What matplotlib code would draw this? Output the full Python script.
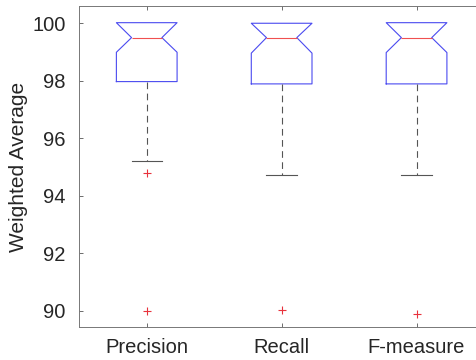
import matplotlib
matplotlib.use("Agg")
import matplotlib.pyplot as plt

labels = ["Precision", "Recall", "F-measure"]
q1 = [97.97, 97.89, 97.89]
med = [99.50, 99.50, 99.50]
q3 = [100.02, 100.0, 100.02]
notch_lo = [98.99, 98.96, 98.98]
whis_lo = [95.21, 94.72, 94.72]
whis_hi = [100.02, 100.0, 100.02]
outliers = [[94.80, 90.0], [90.01], [89.90]]

stats = []
for i, lab in enumerate(labels):
    stats.append(dict(label=lab, med=med[i], q1=q1[i], q3=q3[i],
                      cilo=notch_lo[i], cihi=q3[i],
                      whislo=whis_lo[i], whishi=whis_hi[i], fliers=[]))

plt.rcParams["font.family"] = ["Liberation Sans", "DejaVu Sans"]
fig = plt.figure(figsize=(4.77, 3.6), dpi=100)
ax = fig.add_axes([0.1662, 0.0908, 0.8485, 0.8925])

bp = ax.bxp(stats, positions=[1, 2, 3], widths=0.45, shownotches=True,
            showfliers=False,
            boxprops=dict(color="#4a4af0", lw=0.8),
            medianprops=dict(color="#f05050", lw=0.8),
            whiskerprops=dict(color="#555555", lw=0.8, ls=(0, (6, 4))),
            capprops=dict(color="#555555", lw=0.8))
# upper caps sit on the box top; hide them
for c in bp["caps"][1::2]:
    c.set_visible(False)

# outliers as red plus signs
for i, vals in enumerate(outliers):
    ax.scatter([i + 1] * len(vals), vals, marker="+", s=36,
               color="#e8323c", linewidths=0.8, zorder=3)

ax.set_xlim(0.5, 3.5)
ax.set_ylim(89.42, 100.6)
ax.set_yticks([90, 92, 94, 96, 98, 100])
ax.set_xticks([1, 2, 3])
ax.set_xticklabels(labels)
ax.tick_params(direction="in", length=3, width=0.6, color="#555555",
               labelsize=14.5, labelcolor="#262626", top=True, right=True)
ax.tick_params(axis="y", pad=10)
ax.tick_params(axis="x", pad=8)
for s in ax.spines.values():
    s.set_color("#777777")
    s.set_linewidth(0.7)
ax.set_ylabel("Weighted Average", fontsize=15, color="#262626", labelpad=3)

fig.savefig("out.png", dpi=100)
